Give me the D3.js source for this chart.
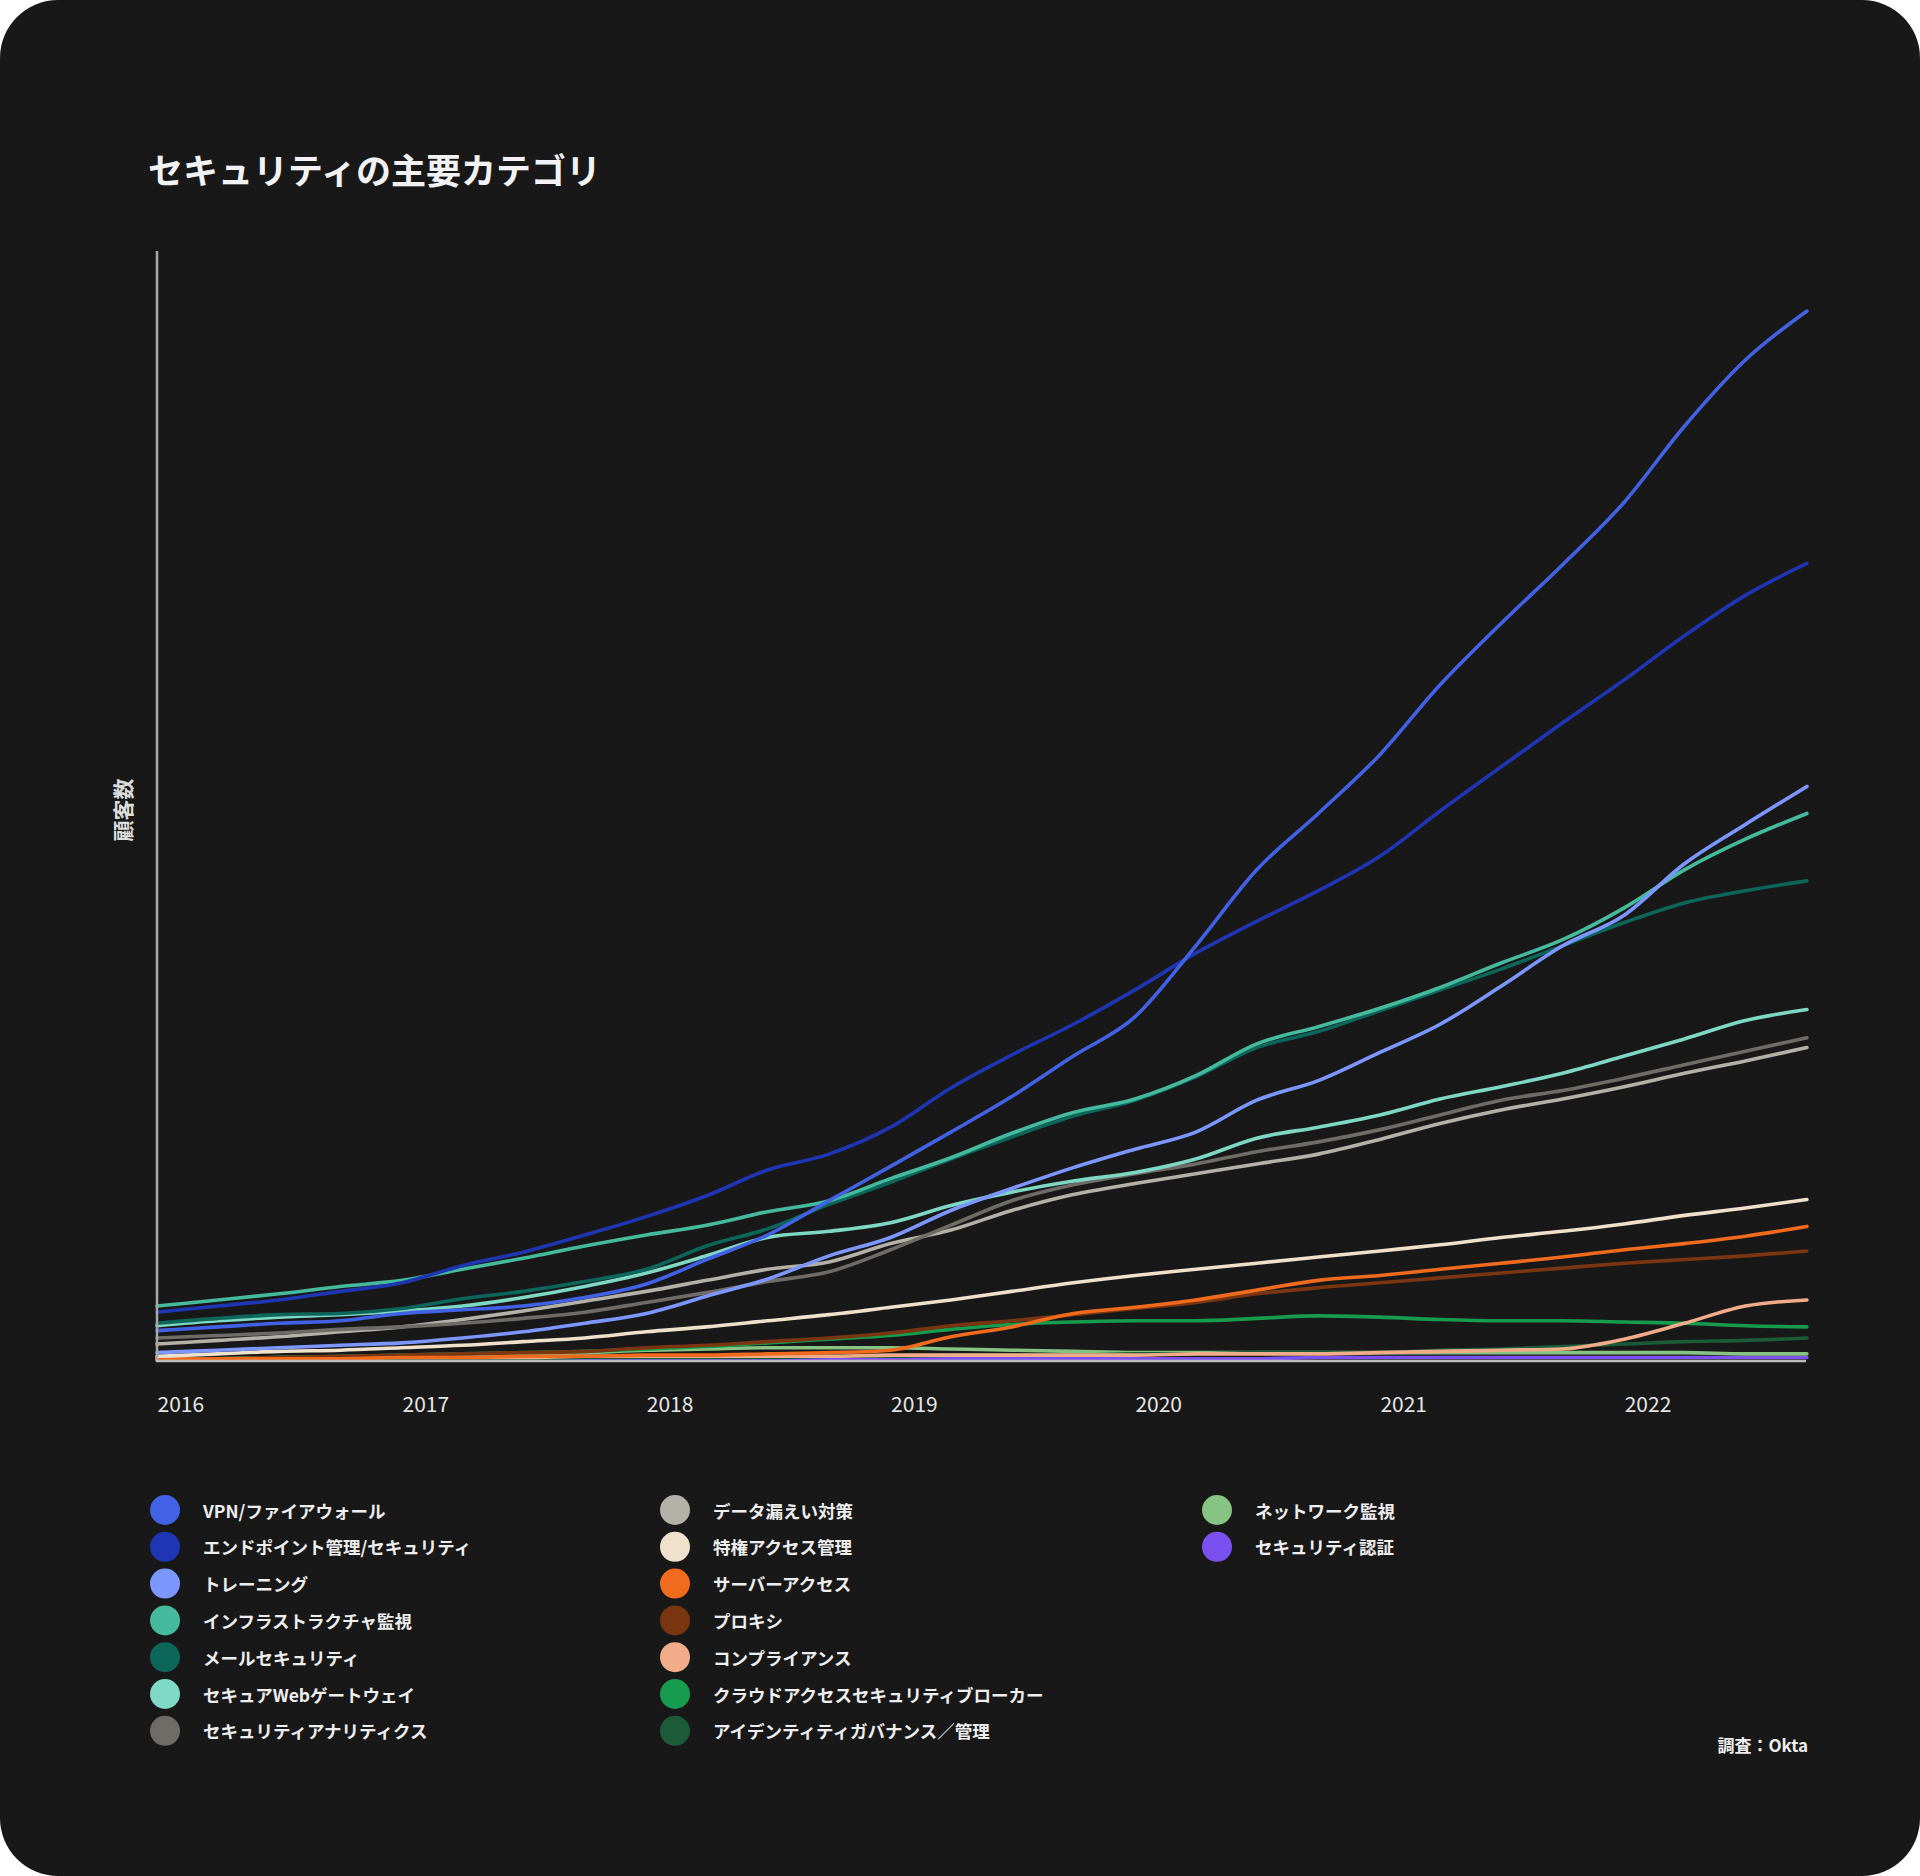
<!DOCTYPE html>
<html><head><meta charset="utf-8">
<script src="https://cdn.jsdelivr.net/npm/d3@7"></script>
<style>
html,body{margin:0;padding:0;background:#ffffff;}
svg{display:block;}
text{font-family:"Noto Sans CJK JP","Noto Sans",sans-serif;}
</style></head>
<body>
<svg id="chart" width="1920" height="1876"></svg>
<script>
// ---- data ----
const dates = ["2016-01","2016-04","2016-07","2016-10","2017-01","2017-04","2017-07","2017-10",
  "2018-01","2018-04","2018-07","2018-10","2019-01","2019-04","2019-07","2019-10",
  "2020-01","2020-04","2020-07","2020-10","2021-01","2021-04","2021-07","2021-10",
  "2022-01","2022-04","2022-07","2022-10"];
const tickYears = ["2016","2017","2018","2019","2020","2021","2022"];
const categories = ["VPN/ファイアウォール","エンドポイント管理/セキュリティ","トレーニング","インフラストラクチャ監視",
  "メールセキュリティ","セキュアWebゲートウェイ","セキュリティアナリティクス",
  "データ漏えい対策","特権アクセス管理","サーバーアクセス","プロキシ","コンプライアンス",
  "クラウドアクセスセキュリティブローカー","アイデンティティガバナンス／管理",
  "ネットワーク監視","セキュリティ認証"];
const colors = ["#4262e6","#1f36b4","#7c97ff","#46ba9d","#0c675a","#7fd8c4","#6f6c68",
  "#b4b1a9","#efe1cb","#f16b1f","#7a3511","#f1ad8a","#169b4f","#1b5b38","#87c383","#7a50f0"];

const vpn        = [240,270,300,320,380,410,440,510,620,820,1020,1300,1580,1860,2150,2480,2800,3380,4000,4460,4940,5510,6010,6490,7000,7620,8160,8560];
const endpoint   = [390,440,490,560,630,770,880,1020,1170,1340,1550,1680,1900,2220,2490,2740,3020,3320,3580,3830,4110,4480,4840,5200,5550,5910,6240,6500];
const training   = [60,80,100,120,140,180,230,300,380,520,660,850,1000,1220,1400,1570,1720,1860,2120,2280,2510,2740,3050,3380,3630,4050,4370,4680];
const infra      = [440,490,540,600,650,740,830,930,1020,1100,1210,1300,1480,1650,1850,2020,2130,2320,2580,2720,2870,3040,3240,3430,3690,4000,4250,4460];
const mail       = [300,340,370,380,420,500,560,640,740,930,1070,1270,1450,1640,1820,1990,2120,2310,2550,2680,2850,3020,3190,3380,3570,3730,3830,3910];
const webGateway = [280,320,350,370,400,440,510,600,710,850,1000,1050,1120,1260,1370,1460,1530,1640,1810,1900,2000,2130,2230,2340,2480,2620,2770,2860];
const analytics  = [180,200,220,250,270,300,340,390,470,550,640,720,900,1100,1300,1430,1520,1600,1700,1780,1880,2000,2120,2200,2300,2410,2520,2630];
const dataLeak   = [130,160,190,230,270,330,400,480,560,650,740,800,950,1060,1220,1350,1440,1520,1600,1680,1800,1930,2040,2130,2230,2340,2440,2550];
const privileged = [30,50,70,80,100,120,150,180,230,270,320,370,430,490,560,630,690,740,790,840,890,940,1000,1050,1110,1180,1240,1310];
const server     = [0,10,10,10,20,20,30,30,40,40,50,60,80,190,270,380,430,490,570,650,690,740,790,840,900,950,1010,1090];
const proxy      = [0,10,20,30,40,50,60,70,100,120,150,180,220,280,320,370,420,470,540,590,630,670,710,750,790,820,850,890];
const compliance = [10,10,10,20,20,20,20,30,30,30,30,30,40,40,40,40,40,50,50,50,60,70,80,90,170,300,440,490];
const casb       = [0,10,20,30,40,50,60,70,90,110,140,170,200,250,290,310,320,320,340,360,350,330,320,320,310,300,280,270];
const identity   = [0,0,0,10,10,10,10,20,20,20,20,30,30,40,40,40,50,50,60,60,60,80,90,110,130,150,160,180];
const network    = [10,10,20,20,30,40,50,60,80,90,100,100,100,90,80,70,60,60,60,60,60,60,60,60,60,60,50,50];
const certification = [0,0,0,0,0,0,0,10,10,10,10,10,10,10,10,10,10,10,10,20,20,20,20,20,20,20,20,20];

const seriesValues = [vpn,endpoint,training,infra,mail,webGateway,analytics,dataLeak,privileged,server,proxy,compliance,casb,identity,network,certification];

const title = "セキュリティの主要カテゴリ";
const yLabel = "顧客数";
const source = "調査：Okta";

// ---- drawing ----
const svg = d3.select("#chart");
svg.append("rect").attr("x",0).attr("y",0).attr("width",1920).attr("height",1876)
  .attr("rx",58).attr("ry",58).attr("fill","#181818");

const parse = d3.timeParse("%Y-%m");
const dts = dates.map(parse);
const x = d3.scaleTime().domain([new Date(2016,0,1), new Date(2023,0,1)]).range([157, 157 + 7*244.5]);
const y = d3.scaleLinear().domain([0, 9050]).range([1360, 251]);

svg.append("text").attr("x",148).attr("y",184).attr("fill","#f2f2f2")
  .attr("font-size",35).attr("font-weight",700).text(title);

svg.append("text").attr("transform","translate(131,810) rotate(-90)")
  .attr("text-anchor","middle").attr("fill","#dcdcdc").attr("font-size",21).attr("font-weight",700)
  .text(yLabel);

// lines
const line = d3.line().x((d,i)=>x(dts[i])).y(d=>y(d)).curve(d3.curveMonotoneX);
const gLines = svg.append("g");
for (let s = seriesValues.length-1; s >= 0; s--) {
  gLines.append("path").datum(seriesValues[s]).attr("d",line)
    .attr("fill","none").attr("stroke",colors[s]).attr("stroke-width",3.6)
    .attr("stroke-linejoin","round").attr("stroke-linecap","round");
}

// axes
svg.append("line").attr("x1",157).attr("x2",157).attr("y1",251).attr("y2",1361)
  .attr("stroke","#a8a8a8").attr("stroke-width",2.5);
svg.append("line").attr("x1",156).attr("x2",1806).attr("y1",1361).attr("y2",1361)
  .attr("stroke","#bdbdbd").attr("stroke-width",2.5);

const xAxis = d3.axisBottom(x)
  .tickValues(tickYears.map(v=>new Date(+v,0,1)))
  .tickFormat(d3.timeFormat("%Y")).tickSize(0);
const gx = svg.append("g").attr("transform","translate(0,1360)").call(xAxis);
gx.select(".domain").remove();
gx.selectAll("text").attr("y",52).attr("dy",0).attr("text-anchor","start")
  .attr("fill","#e6e6e6").attr("font-size",21).attr("font-family","Inter, 'Noto Sans', sans-serif");

// legend
const colX = [165, 675, 1217];
const perCol = [7,7,2];
const g = svg.append("g");
let idx = 0;
perCol.forEach((n,c)=>{
  for (let r=0;r<n;r++){
    const cy = 1510 + r*36.8;
    g.append("circle").attr("cx",colX[c]).attr("cy",cy).attr("r",15).attr("fill",colors[idx]);
    g.append("text").attr("x",colX[c]+38).attr("y",cy).attr("dominant-baseline","central")
      .attr("fill","#eeeeee").attr("font-size",17.5).attr("font-weight",700).text(categories[idx]);
    idx++;
  }
});

svg.append("text").attr("x",1808).attr("y",1744).attr("text-anchor","end").attr("dominant-baseline","central")
  .attr("fill","#eeeeee").attr("font-size",17).attr("font-weight",700).text(source);
</script>
</body></html>
